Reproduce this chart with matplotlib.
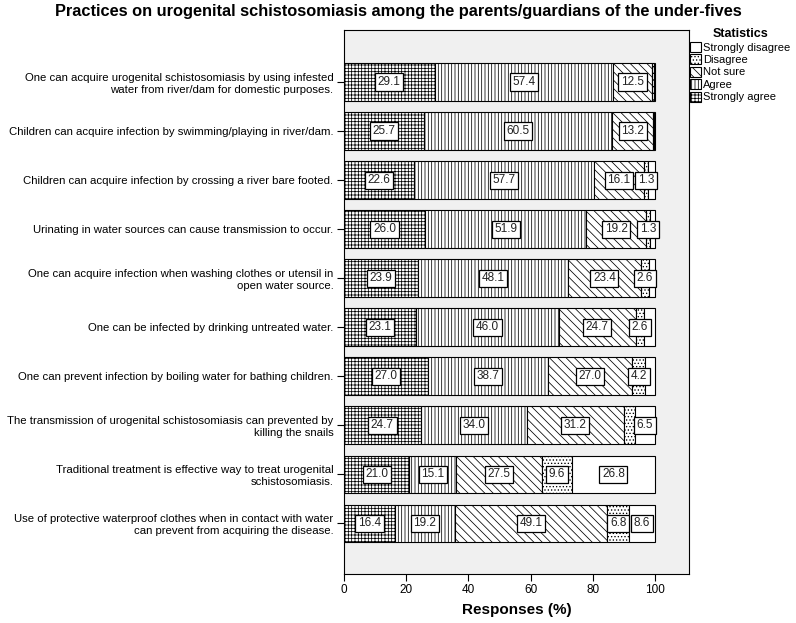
import matplotlib
matplotlib.use("Agg")
import matplotlib.pyplot as plt
import numpy as np

plt.rcParams['font.family'] = ['Liberation Sans', 'DejaVu Sans']
plt.rcParams['hatch.linewidth'] = 0.55

statements = [
    "One can acquire urogenital schistosomiasis by using infested\nwater from river/dam for domestic purposes.",
    "Children can acquire infection by swimming/playing in river/dam.",
    "Children can acquire infection by crossing a river bare footed.",
    "Urinating in water sources can cause transmission to occur.",
    "One can acquire infection when washing clothes or utensil in\nopen water source.",
    "One can be infected by drinking untreated water.",
    "One can prevent infection by boiling water for bathing children.",
    "The transmission of urogenital schistosomiasis can prevented by\nkilling the snails",
    "Traditional treatment is effective way to treat urogenital\nschistosomiasis.",
    "Use of protective waterproof clothes when in contact with water\ncan prevent from acquiring the disease.",
]

strongly_agree = [29.1, 25.7, 22.6, 26.0, 23.9, 23.1, 27.0, 24.7, 21.0, 16.4]
agree = [57.4, 60.5, 57.7, 51.9, 48.1, 46.0, 38.7, 34.0, 15.1, 19.2]
not_sure = [12.5, 13.2, 16.1, 19.2, 23.4, 24.7, 27.0, 31.2, 27.5, 49.1]
disagree = [0.5, 0.3, 1.3, 1.3, 2.6, 2.6, 4.2, 3.6, 9.6, 6.8]
strongly_disagree = [0.5, 0.3, 2.3, 1.6, 2.0, 3.6, 3.1, 6.5, 26.8, 8.6]

# which segments carry a value label
label_sa = [True] * 10
label_a = [True] * 10
label_ns = [True] * 10
label_d = [False, False, True, True, True, True, True, False, True, True]
label_sd = [False, False, False, False, False, False, False, True, True, True]

series_names = ["Strongly agree", "Agree", "Not sure", "Disagree", "Strongly disagree"]
series_values = [strongly_agree, agree, not_sure, disagree, strongly_disagree]
series_labels = [label_sa, label_a, label_ns, label_d, label_sd]
hatches = ['+++++', '|||||', '\\\\\\\\', '.....', '']

x_ticks = [0, 20, 40, 60, 80, 100]

fig = plt.figure(figsize=(7.96, 6.23), dpi=100)
ax = fig.add_axes([344/796, 49/623, 345/796, 544/623])
ax.set_facecolor('#F0F0F0')

y = np.arange(len(statements))
left = np.zeros(len(statements))
handles = []
for name, vals, labs, h in zip(series_names, series_values, series_labels, hatches):
    vals = np.array(vals)
    bars = ax.barh(y, vals, left=left, height=0.77, color='white',
                   edgecolor='black', linewidth=0.8, hatch=h, label=name)
    handles.append(bars)
    for yi, (l, v, show) in enumerate(zip(left, vals, labs)):
        if show:
            ax.text(l + v / 2, yi, f"{v:.1f}", ha='center', va='center',
                    fontsize=8.5, color='#222222',
                    bbox=dict(boxstyle='square,pad=0.22', facecolor='white',
                              edgecolor='black', linewidth=0.9))
    left = left + vals

ax.set_xlim(0, 110.9)
ax.set_ylim(10.03, -1.06)
ax.set_yticks(y)
ax.set_yticklabels(statements, fontsize=8.2)
ax.set_xticks(x_ticks)
ax.set_xticklabels([str(t) for t in x_ticks], fontsize=8.5)
ax.tick_params(axis='y', length=5, pad=2.5, width=0.8)
ax.tick_params(axis='x', length=5, pad=2, width=0.8)
for s in ax.spines.values():
    s.set_linewidth(0.8)

ax.set_xlabel("Responses (%)", fontsize=11, fontweight='bold', labelpad=5)
fig.suptitle("Practices on urogenital schistosomiasis among the parents/guardians of the under-fives",
             fontsize=11.8, fontweight='bold', x=0.5, y=1 - 4/623, va='top')

leg = fig.legend(handles[::-1], series_names[::-1], loc='upper left',
                 bbox_to_anchor=(689/796, 1 - 27/623), frameon=False,
                 fontsize=8, title="Statistics",
                 title_fontproperties={'weight': 'bold', 'size': 9},
                 handlelength=1.0, handleheight=1.0, handletextpad=0.2,
                 labelspacing=0.15, borderaxespad=0, borderpad=0.1)

fig.savefig("out.png", dpi=100)
